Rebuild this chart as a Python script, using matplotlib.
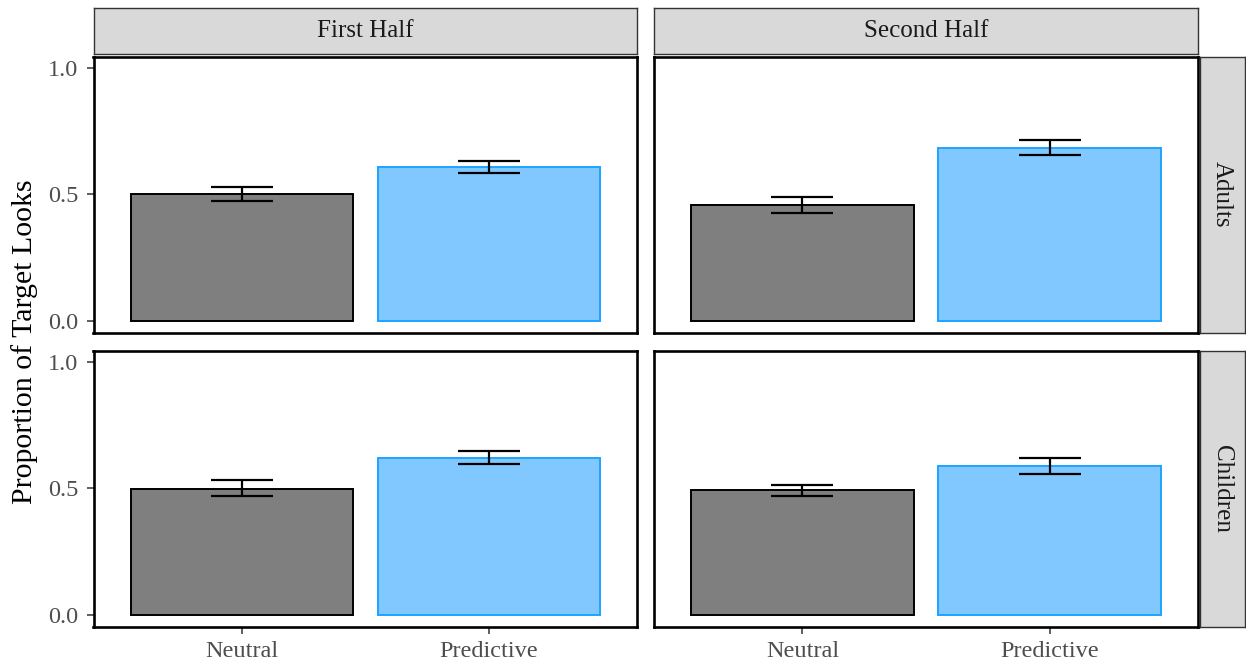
import numpy as np
import matplotlib
matplotlib.use("Agg")
import matplotlib.pyplot as plt

plt.rcParams['font.family'] = ['Liberation Serif', 'DejaVu Serif']

conditions = ["Neutral", "Predictive"]
halves = ["First Half", "Second Half"]
groups = ["Adults", "Children"]

# mean proportion of target looks, [group][half] -> (Neutral, Predictive)
means = {
    ("Adults", "First Half"): [0.501, 0.607],
    ("Adults", "Second Half"): [0.457, 0.684],
    ("Children", "First Half"): [0.499, 0.620],
    ("Children", "Second Half"): [0.494, 0.588],
}
lower = {
    ("Adults", "First Half"): [0.473, 0.584],
    ("Adults", "Second Half"): [0.424, 0.655],
    ("Children", "First Half"): [0.468, 0.595],
    ("Children", "Second Half"): [0.470, 0.555],
}
upper = {
    ("Adults", "First Half"): [0.529, 0.631],
    ("Adults", "Second Half"): [0.488, 0.713],
    ("Children", "First Half"): [0.533, 0.647],
    ("Children", "Second Half"): [0.514, 0.621],
}
yticks = [0.0, 0.5, 1.0]

fills = ["#7F7F7F", "#80C8FF"]
edges = ["#000000", "#1EA3FF"]

W, H = 1246, 667
fig = plt.figure(figsize=(W / 100, H / 100), dpi=100)


def box(x0, y0, x1, y1):
    return [x0 / W, 1 - y1 / H, (x1 - x0) / W, (y1 - y0) / H]


cols = [(93.5, 637.0), (654.0, 1198.0)]
rows = [(56.5, 332.5), (350.5, 626.5)]


def strip(rect, label, rotation=0):
    s = fig.add_axes(rect)
    s.set_facecolor("#D9D9D9")
    s.set_xticks([])
    s.set_yticks([])
    for sp in s.spines.values():
        sp.set_color("#333333")
        sp.set_linewidth(1.0)
    s.text(0.5, 0.5, label, transform=s.transAxes, ha="center", va="center",
           fontsize=18, color="#1A1A1A", rotation=rotation)


x = np.arange(1, len(conditions) + 1)
for r, grp in enumerate(groups):
    for c, half in enumerate(halves):
        ax = fig.add_axes(box(cols[c][0], rows[r][0], cols[c][1], rows[r][1]))
        key = (grp, half)
        ax.bar(x, means[key], width=0.9, color=fills, edgecolor=edges,
               linewidth=1.4, zorder=2)
        ax.vlines(x, lower[key], upper[key], color="black", linewidth=1.6, zorder=3)
        for xi, lo, hi in zip(x, lower[key], upper[key]):
            ax.hlines([lo, hi], xi - 0.125, xi + 0.125, color="black",
                      linewidth=1.6, zorder=3)
        ax.set_xlim(0.4, 2.6)
        ax.set_ylim(-0.046, 1.044)
        for sp in ax.spines.values():
            sp.set_color("black")
            sp.set_linewidth(1.9)
        ax.tick_params(color="#333333", width=1.1, length=5,
                       labelcolor="#4D4D4D", labelsize=17.5)
        ax.tick_params(axis="y", pad=6)
        ax.tick_params(axis="x", pad=5.5)
        ax.set_yticks(yticks)
        ax.set_xticks(x)
        if c == 0:
            ax.set_yticklabels([f"{v:.1f}" for v in yticks])
        else:
            ax.tick_params(axis="y", left=False, labelleft=False)
        if r == len(groups) - 1:
            ax.set_xticklabels(conditions)
        else:
            ax.tick_params(axis="x", bottom=False, labelbottom=False)

for c, half in enumerate(halves):
    strip(box(cols[c][0], 8.0, cols[c][1], 54.0), half)
for r, grp in enumerate(groups):
    strip(box(1199.5, rows[r][0], 1245.0, rows[r][1]), grp, rotation=-90)

fig.text(25 / W, 1 - 341.5 / H, "Proportion of Target Looks", rotation=90,
         ha="center", va="center", fontsize=21.5, color="black")

fig.savefig("out.png", dpi=100, facecolor="white")
